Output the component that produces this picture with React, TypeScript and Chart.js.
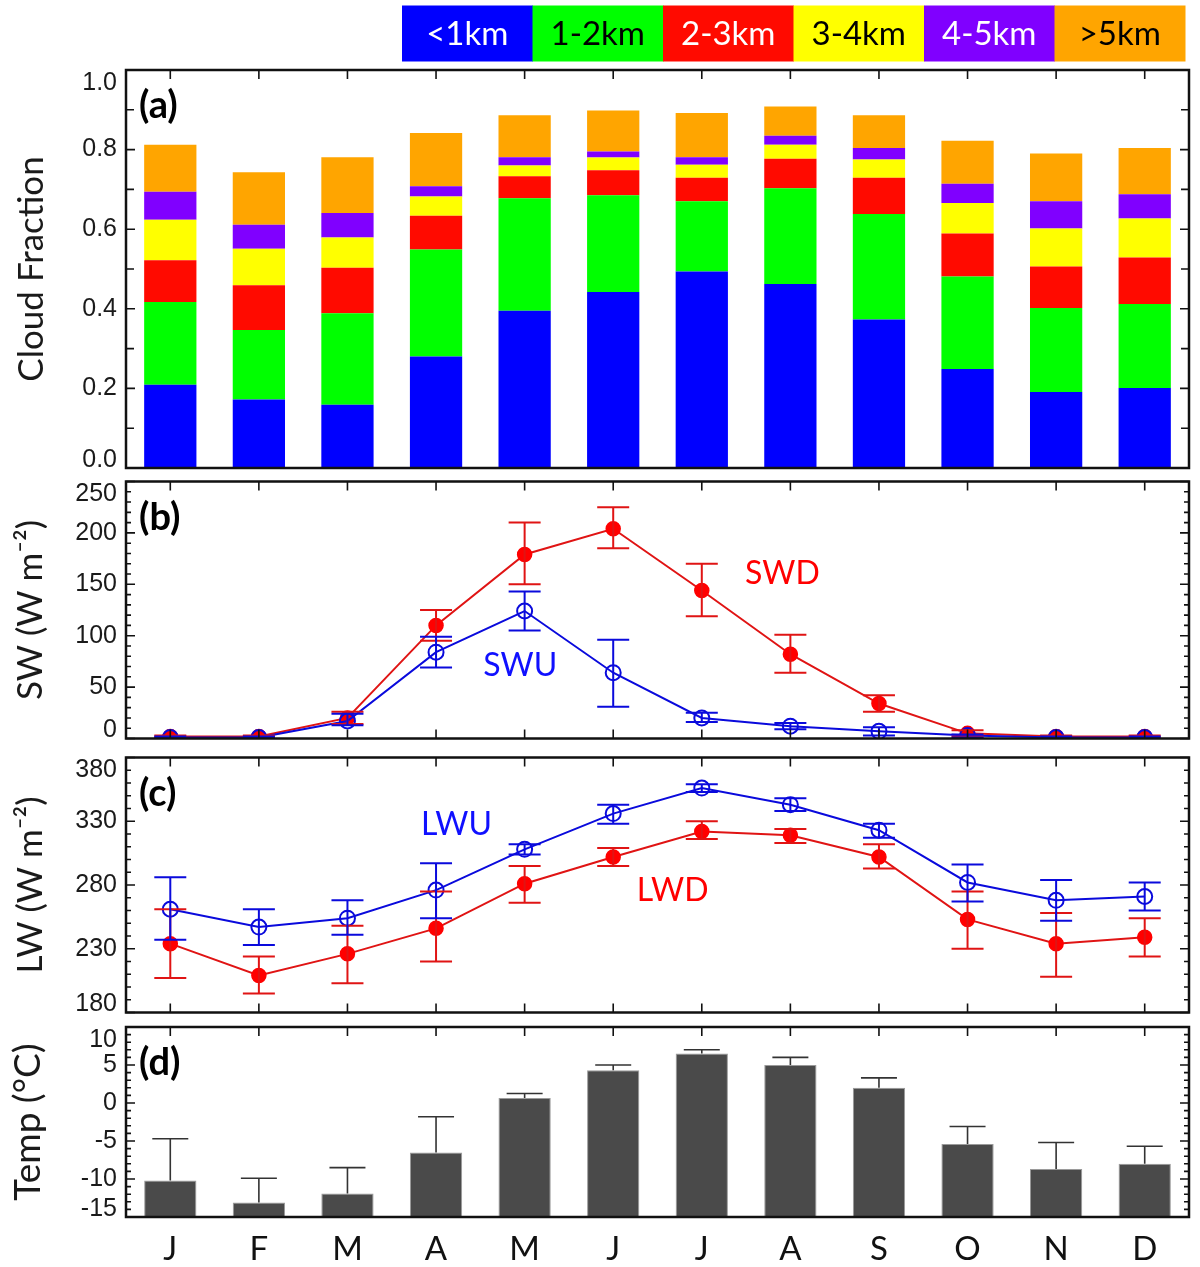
import React, { useEffect, useRef } from "react";
import { Chart, registerables } from "chart.js";

Chart.register(...registerables);

// ---------- data ----------
const MONTHS = ["J", "F", "M", "A", "M", "J", "J", "A", "S", "O", "N", "D"];

// (a) cloud fraction by layer (layer thickness, stacked)
const LAYER_LABELS = ["<1km", "1-2km", "2-3km", "3-4km", "4-5km", ">5km"];
const LAYER_COLORS = ["#0000FF", "#00FF00", "#FF0A00", "#FFFF00", "#8000FF", "#FFA500"];
const LAYER_TEXT_COLORS = ["#FFFFFF", "#000000", "#FFFFFF", "#000000", "#FFFFFF", "#000000"];
const CF_0_1 = [0.209, 0.172, 0.159, 0.28, 0.395, 0.442, 0.494, 0.462, 0.373, 0.249, 0.191, 0.201];
const CF_1_2 = [0.208, 0.175, 0.23, 0.269, 0.283, 0.243, 0.176, 0.241, 0.265, 0.232, 0.211, 0.211];
const CF_2_3 = [0.105, 0.112, 0.114, 0.085, 0.055, 0.063, 0.059, 0.074, 0.091, 0.108, 0.104, 0.117];
const CF_3_4 = [0.102, 0.092, 0.076, 0.048, 0.027, 0.032, 0.033, 0.035, 0.046, 0.077, 0.096, 0.098];
const CF_4_5 = [0.07, 0.06, 0.062, 0.026, 0.021, 0.015, 0.019, 0.023, 0.029, 0.048, 0.068, 0.061];
const CF_GT5 = [0.118, 0.132, 0.14, 0.134, 0.105, 0.103, 0.111, 0.073, 0.082, 0.108, 0.12, 0.116];
const CF_TICKS = [0, 0.2, 0.4, 0.6, 0.8, 1.0];

// (b) shortwave
const SWD = [2, 2, 20, 110, 179, 204, 144, 82, 34, 5, 2, 2];
const SWD_LO = [1, 1, 14, 95, 150, 185, 119, 64, 26, 2, 1, 1];
const SWD_HI = [3, 3, 26, 125, 210, 225, 170, 101, 42, 8, 3, 3];
const SWU = [1, 1, 17, 84, 124, 64, 20, 12, 7, 3, 1, 1];
const SWU_LO = [0, 0, 13, 69, 105, 31, 16, 9, 3, 1, 0, 0];
const SWU_HI = [2, 2, 24, 99, 143, 96, 25, 15, 11, 4, 2, 2];
const SW_TICKS = [0, 50, 100, 150, 200, 250];

// (c) longwave
const LWU = [261, 247, 254, 276, 308, 336, 356, 343, 323, 282, 268, 271];
const LWU_LO = [237, 233, 241, 254, 304, 328, 353, 338, 317, 267, 252, 260];
const LWU_HI = [286, 261, 268, 297, 312, 343, 359, 348, 328, 296, 284, 282];
const LWD = [234, 209, 226, 246, 281, 302, 322, 319, 302, 253, 234, 239];
const LWD_LO = [207, 195, 203, 220, 266, 295, 316, 313, 293, 230, 208, 224];
const LWD_HI = [261, 224, 248, 275, 295, 309, 330, 324, 312, 275, 258, 254];
const LW_TICKS = [180, 230, 280, 330, 380];

// (d) temperature
const TEMP = [-10.2, -13.1, -11.9, -6.5, 0.65, 4.3, 6.5, 5.0, 2.0, -5.4, -8.7, -8.0];
const TEMP_HI = [-4.7, -9.9, -8.5, -1.8, 1.25, 5.0, 7.0, 6.0, 3.3, -3.1, -5.2, -5.7];
const TEMP_TICKS = [-15, -10, -5, 0, 5, 10];

// ---------- styling ----------
const RED_LINE = "#E01414";
const RED_PT = "#FF0000";
const BLUE_LINE = "#0A0ADC";
const BLUE_TXT = "#1010FF";
const PLOT_LEFT = 126;
const RIGHT_PAD = 11;
const LABEL_FONT = "25px 'Liberation Sans', Arial, sans-serif";

type ErrSpec = { values: number[]; lo?: number[]; hi: number[]; color: string; width: number; cap: number };
type Note = { text: string; x: number; y: number; color: string };
type PanelCfg = {
  letter: string;
  yLabels: number[];
  decimals: number;
  minor: number;
  major: number;
  minorLen: number;
  bottomTicks: boolean;
  errors?: ErrSpec[];
  notes?: Note[];
  legend?: boolean;
};

function makePanelPlugin(cfg: PanelCfg) {
  return {
    id: "panel" + cfg.letter.replace(/[()]/g, ""),
    afterDatasetsDraw(chart: any) {
      const { ctx, chartArea: a, scales } = chart;
      const x = scales.x;
      const y = scales.y;
      ctx.save();
      ctx.beginPath();
      ctx.rect(a.left, a.top, a.right - a.left, a.bottom - a.top);
      ctx.clip();
      (cfg.errors || []).forEach((e) => {
        ctx.strokeStyle = e.color;
        ctx.lineWidth = e.width;
        e.hi.forEach((h, i) => {
          const px = x.getPixelForValue(i);
          const yh = y.getPixelForValue(h);
          const yl = y.getPixelForValue(e.lo ? e.lo[i] : e.values[i]);
          ctx.beginPath();
          ctx.moveTo(px, yl);
          ctx.lineTo(px, yh);
          ctx.moveTo(px - e.cap / 2, yh);
          ctx.lineTo(px + e.cap / 2, yh);
          if (e.lo) {
            ctx.moveTo(px - e.cap / 2, yl);
            ctx.lineTo(px + e.cap / 2, yl);
          }
          ctx.stroke();
        });
      });
      ctx.restore();
    },
    afterDraw(chart: any) {
      const { ctx, chartArea: a, scales } = chart;
      const x = scales.x;
      const y = scales.y;
      ctx.save();
      // y ticks (inward, both sides)
      ctx.strokeStyle = "#111";
      ctx.lineWidth = 1.6;
      const n = Math.round((y.max - y.min) / cfg.minor);
      for (let k = 0; k <= n; k++) {
        const v = y.min + k * cfg.minor;
        const r = (v - y.min) / cfg.major;
        const isMajor = Math.abs(r - Math.round(r)) < 1e-6;
        const len = isMajor ? 9 : cfg.minorLen;
        const py = y.getPixelForValue(v);
        ctx.beginPath();
        ctx.moveTo(a.left, py);
        ctx.lineTo(a.left + len, py);
        ctx.moveTo(a.right, py);
        ctx.lineTo(a.right - len, py);
        ctx.stroke();
      }
      // x ticks
      for (let i = 0; i < MONTHS.length; i++) {
        const px = x.getPixelForValue(i);
        ctx.beginPath();
        ctx.moveTo(px, a.top);
        ctx.lineTo(px, a.top + 9);
        if (cfg.bottomTicks) {
          ctx.moveTo(px, a.bottom);
          ctx.lineTo(px, a.bottom - 9);
        }
        ctx.stroke();
      }
      // frame
      ctx.lineWidth = 2.5;
      ctx.strokeStyle = "#111";
      ctx.strokeRect(a.left, a.top, a.right - a.left, a.bottom - a.top);
      // y tick labels
      ctx.fillStyle = "#1a1a1a";
      ctx.font = LABEL_FONT;
      ctx.textAlign = "right";
      ctx.textBaseline = "middle";
      cfg.yLabels.forEach((v) => {
        let py = y.getPixelForValue(v);
        py = Math.max(a.top + 13, Math.min(a.bottom - 8, py));
        ctx.fillText(v.toFixed(cfg.decimals), a.left - 9, py);
      });
      // panel letter
      ctx.fillStyle = "#000";
      ctx.font = "bold 38px Lato, sans-serif";
      ctx.textAlign = "left";
      ctx.fillText(cfg.letter, a.left + 13, a.top + 36);
      // annotations
      ctx.font = "32px Lato, sans-serif";
      ctx.textAlign = "center";
      (cfg.notes || []).forEach((nt) => {
        ctx.fillStyle = nt.color;
        ctx.fillText(nt.text, x.getPixelForValue(nt.x), y.getPixelForValue(nt.y));
      });
      // legend boxes
      if (cfg.legend) {
        const ds = chart.data.datasets;
        const bw = 130.5;
        const right = a.right - 4;
        const left0 = right - bw * ds.length;
        const top = 5.5;
        const h = 56;
        ctx.font = "33px Lato, sans-serif";
        ds.forEach((d: any, i: number) => {
          const bx = left0 + i * bw;
          ctx.fillStyle = d.backgroundColor;
          ctx.fillRect(bx, top, bw + 0.5, h);
          ctx.fillStyle = LAYER_TEXT_COLORS[i];
          ctx.fillText(d.label, bx + bw / 2, top + h / 2 + 1);
        });
      }
      ctx.restore();
    },
  };
}

function yScale(min: number, max: number, ticks: number[], title: string, titlePad: number, size: number, stacked = false) {
  return {
    min,
    max,
    stacked,
    afterBuildTicks: (s: any) => {
      s.ticks = ticks.map((v) => ({ value: v }));
    },
    ticks: { display: false },
    grid: { display: false, drawTicks: false },
    border: { display: false },
    title: {
      display: true,
      text: title,
      color: "#1a1a1a",
      font: { family: "Lato", size },
      padding: { top: titlePad, bottom: 0 },
    },
    afterFit: (s: any) => {
      s.width = PLOT_LEFT;
    },
  };
}

const hiddenX = (stacked = false) => ({ display: false, offset: true, stacked });

const baseOptions = (padTop: number, padBottom: number) => ({
  animation: false as const,
  responsive: false,
  maintainAspectRatio: false,
  events: [] as any[],
  layout: { padding: { left: 0, right: RIGHT_PAD, top: padTop, bottom: padBottom } },
  plugins: { legend: { display: false }, tooltip: { enabled: false } },
});

function lineDs(label: string, data: number[], color: string, filled: boolean) {
  return {
    type: "line" as const,
    label,
    data,
    borderColor: color,
    borderWidth: 2,
    pointRadius: filled ? 7 : 7.5,
    pointBorderWidth: filled ? 1.5 : 2,
    pointBorderColor: filled ? RED_PT : color,
    pointBackgroundColor: filled ? RED_PT : "rgba(0,0,0,0)",
    tension: 0,
    clip: 0,
  };
}

export default function App() {
  const ra = useRef<HTMLCanvasElement>(null);
  const rb = useRef<HTMLCanvasElement>(null);
  const rc = useRef<HTMLCanvasElement>(null);
  const rd = useRef<HTMLCanvasElement>(null);

  useEffect(() => {
    const charts: Chart[] = [];
    const layers = [CF_0_1, CF_1_2, CF_2_3, CF_3_4, CF_4_5, CF_GT5];

    // (a)
    charts.push(
      new Chart(ra.current as HTMLCanvasElement, {
        type: "bar",
        data: {
          labels: MONTHS,
          datasets: layers.map((d, i) => ({
            label: LAYER_LABELS[i],
            data: d,
            backgroundColor: LAYER_COLORS[i],
            borderWidth: 0,
            barPercentage: 0.59,
            categoryPercentage: 1,
          })),
        },
        options: {
          ...baseOptions(70, 4),
          scales: {
            x: hiddenX(true),
            y: yScale(0, 1, CF_TICKS, "Cloud Fraction", 11, 35, true),
          },
        } as any,
        plugins: [
          makePanelPlugin({
            letter: "(a)",
            yLabels: CF_TICKS,
            decimals: 1,
            minor: 0.1,
            major: 0.2,
            minorLen: 8,
            bottomTicks: false,
            legend: true,
          }),
        ],
      })
    );

    // (b)
    charts.push(
      new Chart(rb.current as HTMLCanvasElement, {
        type: "line",
        data: {
          labels: MONTHS,
          datasets: [lineDs("SWU", SWU, BLUE_LINE, false), lineDs("SWD", SWD, RED_LINE, true)],
        },
        options: {
          ...baseOptions(5, 5),
          scales: {
            x: hiddenX(),
            y: yScale(0, 250, SW_TICKS, "SW (W m\u207B\u00B2)", 10, 35),
          },
        } as any,
        plugins: [
          makePanelPlugin({
            letter: "(b)",
            yLabels: SW_TICKS,
            decimals: 0,
            minor: 10,
            major: 50,
            minorLen: 5,
            bottomTicks: true,
            errors: [
              { values: SWD, lo: SWD_LO, hi: SWD_HI, color: RED_LINE, width: 2, cap: 32 },
              { values: SWU, lo: SWU_LO, hi: SWU_HI, color: BLUE_LINE, width: 2, cap: 32 },
            ],
            notes: [
              { text: "SWD", x: 6.91, y: 160, color: RED_PT },
              { text: "SWU", x: 3.95, y: 70.5, color: BLUE_TXT },
            ],
          }),
        ],
      })
    );

    // (c)
    charts.push(
      new Chart(rc.current as HTMLCanvasElement, {
        type: "line",
        data: {
          labels: MONTHS,
          datasets: [lineDs("LWU", LWU, BLUE_LINE, false), lineDs("LWD", LWD, RED_LINE, true)],
        },
        options: {
          ...baseOptions(5, 4),
          scales: {
            x: hiddenX(),
            y: yScale(180, 380, LW_TICKS, "LW (W m\u207B\u00B2)", 10, 35),
          },
        } as any,
        plugins: [
          makePanelPlugin({
            letter: "(c)",
            yLabels: LW_TICKS,
            decimals: 0,
            minor: 10,
            major: 50,
            minorLen: 5,
            bottomTicks: true,
            errors: [
              { values: LWD, lo: LWD_LO, hi: LWD_HI, color: RED_LINE, width: 2, cap: 32 },
              { values: LWU, lo: LWU_LO, hi: LWU_HI, color: BLUE_LINE, width: 2, cap: 32 },
            ],
            notes: [
              { text: "LWU", x: 3.23, y: 327, color: BLUE_TXT },
              { text: "LWD", x: 5.67, y: 275.5, color: RED_PT },
            ],
          }),
        ],
      })
    );

    // (d)
    charts.push(
      new Chart(rd.current as HTMLCanvasElement, {
        type: "bar",
        data: {
          labels: MONTHS,
          datasets: [
            {
              label: "Temp",
              data: TEMP,
              base: -15,
              backgroundColor: "#4a4a4a",
              borderColor: "#9a9a9a",
              borderWidth: 1,
              barPercentage: 0.59,
              categoryPercentage: 1,
            } as any,
          ],
        },
        options: {
          ...baseOptions(5, 0),
          scales: {
            x: {
              offset: true,
              ticks: {
                font: { family: "Lato", size: 33 },
                color: "#111",
                padding: 13,
                maxRotation: 0,
                autoSkip: false,
              },
              grid: { display: false, drawTicks: false },
              border: { display: false },
              afterFit: (s: any) => {
                s.height = 50;
              },
            },
            y: yScale(-15, 10, TEMP_TICKS, "Temp (\u00B0C)", 6, 37),
          },
        } as any,
        plugins: [
          makePanelPlugin({
            letter: "(d)",
            yLabels: TEMP_TICKS,
            decimals: 0,
            minor: 1,
            major: 5,
            minorLen: 5,
            bottomTicks: false,
            errors: [{ values: TEMP, hi: TEMP_HI, color: "#333", width: 1.6, cap: 36 }],
          }),
        ],
      })
    );

    return () => charts.forEach((c) => c.destroy());
  }, []);

  const cs = (top: number): React.CSSProperties => ({ position: "absolute", left: 0, top });

  return (
    <div style={{ position: "absolute", left: 0, top: 0, width: 1200, height: 1267, background: "#fff", overflow: "hidden" }}>
      <canvas ref={ra} width={1200} height={472} style={{ ...cs(0), width: 1200, height: 472 }} />
      <canvas ref={rb} width={1200} height={276} style={{ ...cs(472), width: 1200, height: 276 }} />
      <canvas ref={rc} width={1200} height={274} style={{ ...cs(748), width: 1200, height: 274 }} />
      <canvas ref={rd} width={1200} height={245} style={{ ...cs(1022), width: 1200, height: 245 }} />
    </div>
  );
}
